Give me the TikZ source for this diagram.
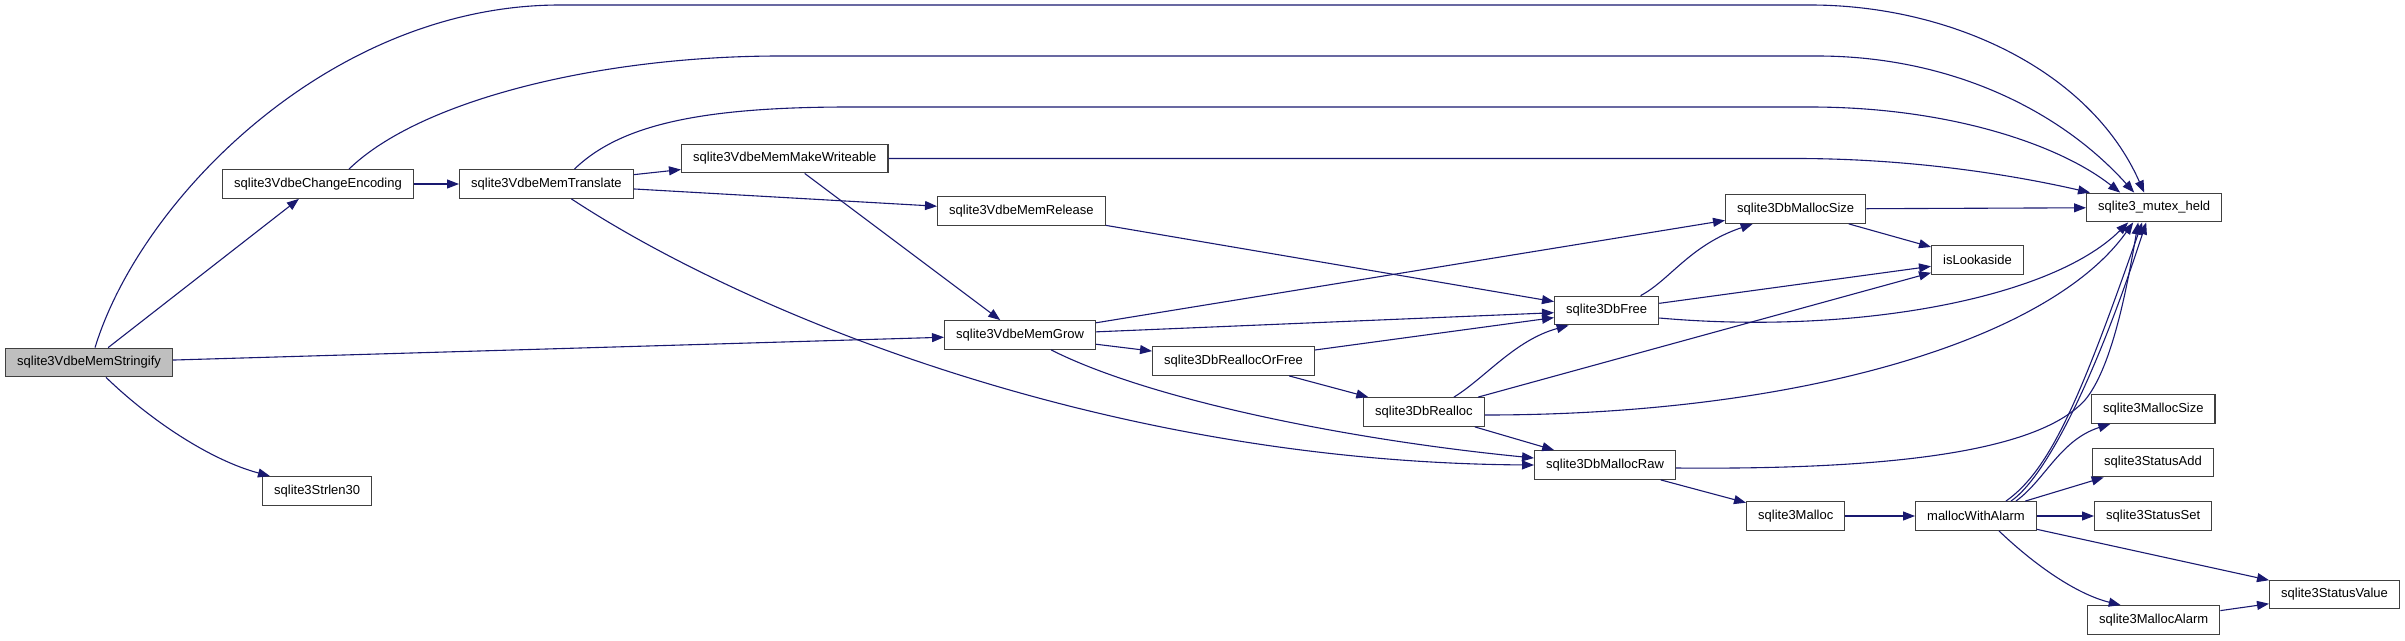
\documentclass[tikz,border=0pt]{standalone}
\usepackage{fontspec}
\setmainfont{Liberation Sans}
\usepackage{tikz}
\usetikzlibrary{arrows.meta, positioning}
\definecolor{graphNavy}{RGB}{25,25,112}
\definecolor{graphGray}{RGB}{191,191,191}
\definecolor{graphEdge}{RGB}{64,64,64}

\begin{document}
\begin{tikzpicture}[
    x=1pt, y=-1pt,
    fn/.style={rectangle, draw=graphEdge, line width=1.3pt, fill=white,
        minimum height=28.5pt, inner xsep=11.5pt, anchor=west,
        font=\fontsize{13}{15}\selectfont},
    cur/.style={fn, fill=graphGray},
    arr/.style={-{Triangle[length=12pt, width=9pt]}, line width=1.1pt, graphNavy}
]
\useasboundingbox (0,0) rectangle (2405,640);
\node[cur] (stringify) at (5, 362.5) {sqlite3VdbeMemStringify};
\node[fn] (strlen) at (262, 491) {sqlite3Strlen30};
\node[fn] (chenc) at (222, 184) {sqlite3VdbeChangeEncoding};
\node[fn] (translate) at (459, 184) {sqlite3VdbeMemTranslate};
\node[fn] (writeable) at (681, 158.5) {sqlite3VdbeMemMakeWriteable};
\node[fn] (release) at (937, 211) {sqlite3VdbeMemRelease};
\node[fn] (grow) at (944, 335) {sqlite3VdbeMemGrow};
\node[fn] (reallocfree) at (1152, 361) {sqlite3DbReallocOrFree};
\node[fn] (realloc) at (1363, 412) {sqlite3DbRealloc};
\node[fn] (dbfree) at (1554, 310.5) {sqlite3DbFree};
\node[fn] (mallocraw) at (1534, 465) {sqlite3DbMallocRaw};
\node[fn] (mallocsize) at (1725, 209) {sqlite3DbMallocSize};
\node[fn] (mutex) at (2086, 207.5) {sqlite3\_mutex\_held};
\node[fn] (lookaside) at (1931, 260) {isLookaside};
\node[fn] (malloc) at (1746, 516) {sqlite3Malloc};
\node[fn] (withalarm) at (1915, 516) {mallocWithAlarm};
\node[fn] (msize) at (2091, 409) {sqlite3MallocSize};
\node[fn] (statadd) at (2092, 462.5) {sqlite3StatusAdd};
\node[fn] (statset) at (2094, 516) {sqlite3StatusSet};
\node[fn] (malarm) at (2087, 620) {sqlite3MallocAlarm};
\node[fn] (statval) at (2269, 594.5) {sqlite3StatusValue};

\draw[arr] (stringify) -- (chenc);
\draw[arr] (stringify) -- (grow);
\draw[arr] ([xshift=6pt]stringify.north) .. controls (140,200) and (330,5) .. (560,5)
    -- (1810,5) .. controls (1950,5) and (2090,70) .. ([xshift=-10pt]mutex.north);
\draw[arr] ([xshift=17pt]stringify.south) .. controls (150,420) and (210,460) .. ([xshift=8pt]strlen.north west);
\draw[arr] (chenc) -- (translate);
\draw[arr] ([xshift=31pt]chenc.north) .. controls (420,100) and (600,56) .. (780,56)
    -- (1817,56) .. controls (1950,56) and (2060,110) .. ([xshift=-20pt]mutex.north);
\draw[arr] ([xshift=28pt]translate.north) .. controls (620,125) and (700,107) .. (850,107)
    -- (1810,107) .. controls (1950,107) and (2060,145) .. ([xshift=-34pt]mutex.north);
\draw[arr] (translate) -- (writeable);
\draw[arr] (translate) -- (release);
\draw[arr] ([xshift=25pt]translate.south) .. controls (740,310) and (1100,462) .. (mallocraw.west);
\draw[arr] (writeable.east) -- (1796,158.5) .. controls (1900,158.5) and (2000,172) .. ([xshift=4pt]mutex.north west);
\draw[arr] (writeable) -- (grow);
\draw[arr] (release) -- (dbfree);
\draw[arr] (grow) -- (mallocsize);
\draw[arr] (grow) -- (dbfree);
\draw[arr] (grow) -- (reallocfree);
\draw[arr] ([xshift=31pt]grow.south) .. controls (1150,400) and (1350,440) .. ([yshift=7pt]mallocraw.west);
\draw[arr] (reallocfree) -- (dbfree);
\draw[arr] (reallocfree) -- (realloc);
\draw[arr] ([xshift=30pt]realloc.north) .. controls (1485,378) and (1515,340) .. ([xshift=-38pt]dbfree.south);
\draw[arr] (realloc) -- (lookaside);
\draw[arr] ([yshift=-3pt]realloc.east) .. controls (1800,415) and (2050,340) .. ([xshift=-21pt]mutex.south);
\draw[arr] (realloc) -- (mallocraw);
\draw[arr] ([xshift=34pt]dbfree.north) .. controls (1670,280) and (1690,245) .. ([xshift=-43pt]mallocsize.south);
\draw[arr] (dbfree) -- (lookaside);
\draw[arr] ([yshift=-7.5pt]dbfree.east) .. controls (1850,335) and (2050,300) .. ([xshift=-26pt]mutex.south);
\draw[arr] (mallocsize) -- (mutex);
\draw[arr] (mallocsize) -- (lookaside);
\draw[arr] ([yshift=-3pt]mallocraw.east) .. controls (1900,470) and (2040,450) .. (2085,400)
    .. controls (2110,370) and (2125,300) .. ([xshift=-16pt]mutex.south);
\draw[arr] (mallocraw) -- (malloc);
\draw[arr] (malloc) -- (withalarm);
\draw[arr] ([xshift=30pt]withalarm.north) .. controls (2050,470) and (2080,400) .. ([xshift=-12pt]mutex.south);
\draw[arr] ([xshift=35pt]withalarm.north) .. controls (2045,478) and (2095,380) .. ([xshift=-8pt]mutex.south);
\draw[arr] ([xshift=40pt]withalarm.north) .. controls (2045,480) and (2060,440) .. ([xshift=-43pt]msize.south);
\draw[arr] (withalarm) -- (statadd);
\draw[arr] (withalarm) -- (statset);
\draw[arr] (withalarm) -- (statval);
\draw[arr] ([xshift=23pt]withalarm.south) .. controls (2040,570) and (2080,595) .. ([xshift=-33pt]malarm.north);
\draw[arr] (malarm) -- (statval);
\end{tikzpicture}
\end{document}
